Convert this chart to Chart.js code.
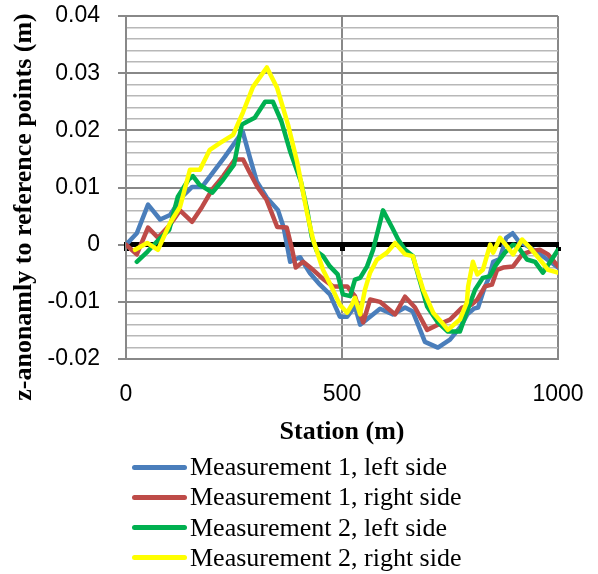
<!DOCTYPE html>
<html>
<head>
<meta charset="utf-8">
<script src="https://cdn.jsdelivr.net/npm/chart.js@4.4.1/dist/chart.umd.min.js"></script>
<style>
  body { margin: 0; background: #fff; }
  #wrap { position: relative; width: 598px; height: 574px; }
  #legend { position: absolute; left: 0; top: 452px; font-family: "Liberation Serif", "Times New Roman", serif; font-size: 26px; color: #000; }
  .item { position: absolute; left: 0; width: 598px; height: 30px; line-height: 30px; white-space: nowrap; }
  .swatch { position: absolute; left: 132px; top: 12.5px; width: 55px; height: 5px; border-radius: 3px; }
  .label { position: absolute; left: 190px; top: 0; }
</style>
</head>
<body>
<div id="wrap">
  <canvas id="profileChart" width="598" height="456"></canvas>
  <div id="legend"></div>
</div>
<script>
// Stations (m) and z-anomaly (m)
const m1LeftStations = [0, 25, 51, 79, 102, 130, 153, 176, 201, 229, 257, 270, 287, 303, 326, 352, 365, 380, 403, 426, 449, 472, 495, 512, 530, 542, 565, 588, 618, 646, 664, 692, 722, 750, 775, 790, 805, 815, 830, 840, 850, 865, 880, 895, 910, 930, 950, 975, 1000];
const m1LeftValues = [0, 0.002, 0.007, 0.0044, 0.0052, 0.0084, 0.0101, 0.0101, 0.0126, 0.0154, 0.0184, 0.0198, 0.0152, 0.011, 0.0082, 0.006, 0.003, -0.003, -0.0022, -0.005, -0.007, -0.0087, -0.0126, -0.0126, -0.0108, -0.014, -0.0126, -0.0112, -0.0122, -0.011, -0.0117, -0.017, -0.018, -0.0166, -0.0143, -0.0122, -0.0112, -0.011, -0.0075, -0.0058, -0.003, -0.0025, 0.0012, 0.002, 0.0005, -0.0003, -0.0012, -0.0026, -0.004];

const m1RightStations = [0, 25, 51, 74, 102, 125, 153, 176, 199, 225, 252, 271, 285, 305, 325, 335, 350, 372, 385, 393, 410, 433, 456, 479, 512, 530, 549, 565, 588, 623, 646, 669, 697, 722, 750, 778, 800, 813, 831, 847, 859, 873, 896, 917, 935, 958, 977, 1000];
const m1RightValues = [0, -0.0017, 0.003, 0.0012, 0.0035, 0.006, 0.004, 0.0066, 0.0096, 0.012, 0.0149, 0.0149, 0.0128, 0.01, 0.0079, 0.006, 0.0031, 0.003, -0.001, -0.004, -0.003, -0.0044, -0.006, -0.0073, -0.0073, -0.009, -0.0136, -0.0096, -0.01, -0.0122, -0.0091, -0.011, -0.0149, -0.014, -0.0131, -0.011, -0.0105, -0.0096, -0.0073, -0.007, -0.0044, -0.004, -0.0038, -0.0017, -0.0012, -0.0009, -0.0017, -0.0038];

const m2LeftStations = [25, 50, 80, 100, 120, 145, 155, 170, 200, 225, 250, 268, 280, 298, 322, 340, 360, 380, 405, 420, 430, 442, 456, 472, 490, 502, 519, 530, 542, 558, 572, 595, 616, 630, 646, 664, 697, 722, 745, 773, 785, 808, 826, 843, 854, 877, 896, 907, 928, 947, 965, 981, 1000];
const m2LeftValues = [-0.003, -0.0012, 0.0012, 0.0026, 0.0084, 0.0114, 0.012, 0.0105, 0.0091, 0.0114, 0.014, 0.021, 0.0215, 0.0222, 0.025, 0.025, 0.0215, 0.0163, 0.011, 0.0058, 0.0014, -0.0012, -0.002, -0.0038, -0.0052, -0.0087, -0.009, -0.0061, -0.0058, -0.0038, -0.0009, 0.006, 0.003, 0.0009, -0.0009, -0.002, -0.0108, -0.0136, -0.0152, -0.0152, -0.0126, -0.0079, -0.0058, -0.0055, -0.0038, -0.0014, 0, -0.0003, -0.0026, -0.003, -0.0049, -0.0031, -0.0009];

const m2RightStations = [21, 49, 74, 102, 125, 148, 171, 194, 218, 248, 271, 294, 326, 350, 375, 396, 419, 433, 456, 479, 495, 512, 523, 530, 542, 553, 565, 581, 604, 623, 646, 664, 688, 711, 731, 745, 773, 789, 792, 803, 813, 826, 843, 850, 866, 882, 896, 917, 935, 958, 977, 1000];
const m2RightValues = [-0.0009, 0.0003, -0.0009, 0.0038, 0.0066, 0.0131, 0.0131, 0.0166, 0.0178, 0.0192, 0.0232, 0.0276, 0.031, 0.0274, 0.021, 0.0145, 0.0056, 0.0009, -0.0044, -0.0079, -0.0105, -0.0119, -0.0105, -0.0093, -0.0122, -0.0079, -0.0049, -0.0026, -0.0014, 0.0003, -0.0017, -0.002, -0.0079, -0.0119, -0.0136, -0.0149, -0.0131, -0.0101, -0.0073, -0.003, -0.0052, -0.0044, 0, -0.0014, 0.0012, -0.0003, -0.0017, 0.0009, -0.0005, -0.0026, -0.0044, -0.0049];

const seriesNames = ['Measurement 1, left side', 'Measurement 1, right side', 'Measurement 2, left side', 'Measurement 2, right side'];
const seriesColors = ['#4a7ebb', '#be4b48', '#00b050', '#ffff00'];

const xTickLabels = [0, 500, 1000];
const yTickLabels = [-0.02, -0.01, 0, 0.01, 0.02, 0.03, 0.04];
const yMinorStep = 0.002;

const tickFont = { family: '"Liberation Sans", Arial, sans-serif', size: 23 };
const titleFont = { family: '"Liberation Serif", "Times New Roman", serif', size: 26, weight: 'bold' };

function toPoints(stations, values) {
    return stations.map((s, i) => ({ x: s, y: values[i] }));
}

function isMajor(v) {
    return Math.abs(v * 100 - Math.round(v * 100)) < 1e-6;
}

const allSeries = [
    toPoints(m1LeftStations, m1LeftValues),
    toPoints(m1RightStations, m1RightValues),
    toPoints(m2LeftStations, m2LeftValues),
    toPoints(m2RightStations, m2RightValues)
];

const datasets = allSeries.map((pts, i) => ({
    label: seriesNames[i],
    data: pts,
    xAxisID: 'x',
    yAxisID: 'y',
    borderColor: seriesColors[i],
    backgroundColor: seriesColors[i],
    borderWidth: 4.5,
    borderJoinStyle: 'round',
    borderCapStyle: 'round',
    pointRadius: 0,
    tension: 0,
    fill: false,
    order: 4 - i // later series drawn on top
}));

const yMin = yTickLabels[0];
const yMax = yTickLabels[yTickLabels.length - 1];

new Chart(document.getElementById('profileChart').getContext('2d'), {
    type: 'line',
    data: { datasets: datasets },
    options: {
        responsive: false,
        animation: false,
        devicePixelRatio: 1,
        layout: { padding: { left: 0, right: 40, top: 16, bottom: 4 } },
        plugins: {
            legend: { display: false },
            tooltip: { enabled: false }
        },
        scales: {
            x: {
                type: 'linear',
                position: 'bottom',
                min: xTickLabels[0],
                max: xTickLabels[xTickLabels.length - 1],
                afterBuildTicks: s => { s.ticks = xTickLabels.map(v => ({ value: v })); },
                ticks: { font: tickFont, color: '#000', padding: 14, maxRotation: 0, autoSkip: false, callback: v => String(v) },
                grid: { color: '#888888', lineWidth: 2, tickLength: 8, tickColor: 'rgba(0,0,0,0)' },
                border: { color: '#888888', width: 2 },
                title: { display: true, text: 'Station (m)', font: titleFont, color: '#000', padding: { top: 0, bottom: 4 } },
                afterFit: s => { s.height = 93; }
            },
            // the thick black horizontal axis that crosses at z = 0
            xZero: {
                type: 'linear',
                axis: 'x',
                position: { y: 0 },
                min: xTickLabels[0],
                max: xTickLabels[xTickLabels.length - 1],
                afterBuildTicks: s => { s.ticks = xTickLabels.map(v => ({ value: v })); },
                ticks: { display: false },
                grid: { drawOnChartArea: false, tickLength: 4, tickWidth: 5, tickColor: '#000' },
                border: { color: '#000', width: 5 }
            },
            y: {
                type: 'linear',
                min: yMin,
                max: yMax,
                afterBuildTicks: s => {
                    const n = Math.round((yMax - yMin) / yMinorStep);
                    const t = [];
                    for (let i = 0; i <= n; i++) {
                        t.push({ value: Math.round((yMin + i * yMinorStep) * 1e6) / 1e6 });
                    }
                    s.ticks = t;
                },
                ticks: {
                    font: tickFont,
                    color: '#000',
                    padding: 18,
                    autoSkip: false,
                    callback: v => isMajor(v) ? String(Math.round(v * 100) / 100) : ''
                },
                grid: {
                    color: ctx => {
                        const v = ctx.tick ? ctx.tick.value : 1;
                        if (Math.abs(v) < 1e-9) return 'rgba(0,0,0,0)';
                        return isMajor(v) ? '#888888' : '#b8b8b8';
                    },
                    lineWidth: ctx => (ctx.tick && isMajor(ctx.tick.value)) ? 2 : 1.5,
                    tickLength: 8,
                    tickColor: ctx => (ctx.tick && isMajor(ctx.tick.value)) ? '#888888' : 'rgba(0,0,0,0)'
                },
                border: { color: '#888888', width: 2 },
                title: {
                    display: true,
                    text: 'z-anonamly to reference points (m)' + '\u00a0'.repeat(6),
                    font: titleFont,
                    color: '#000',
                    padding: { top: 9, bottom: 0 }
                },
                afterFit: s => {
                    s.width = 126;
                    // label padding should not push the plot down
                    s.paddingTop = 14;
                    s.paddingBottom = 14;
                }
            }
        }
    }
});

// Legend: one entry per row, as in the reference
const legendBox = document.getElementById('legend');
seriesNames.forEach((name, i) => {
    const row = document.createElement('div');
    row.className = 'item';
    row.style.top = (i * 30.3) + 'px';
    const sw = document.createElement('div');
    sw.className = 'swatch';
    sw.style.background = seriesColors[i];
    const lb = document.createElement('span');
    lb.className = 'label';
    lb.textContent = name;
    row.appendChild(sw);
    row.appendChild(lb);
    legendBox.appendChild(row);
});
</script>
</body>
</html>
